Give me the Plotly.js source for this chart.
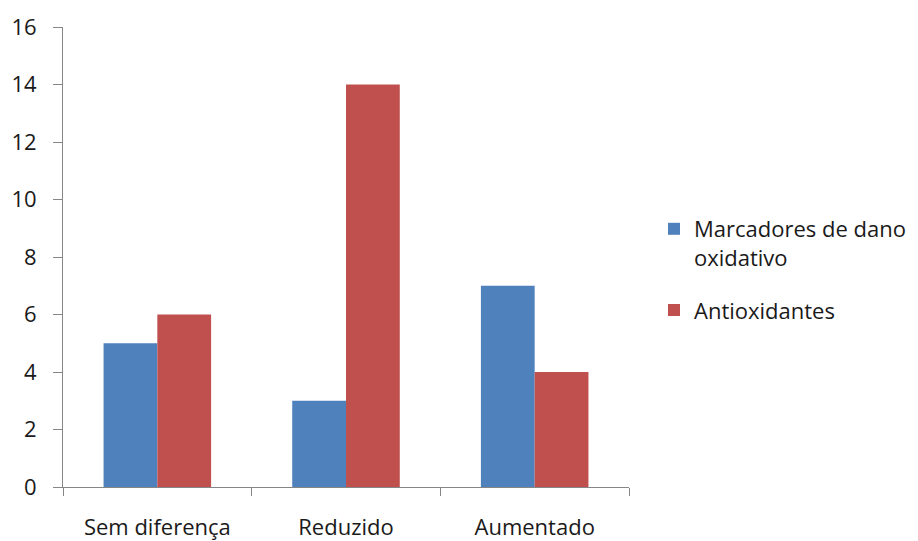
<!DOCTYPE html>
<html>
<head>
<meta charset="utf-8">
<script src="https://cdn.plot.ly/plotly-3.0.1.min.js"></script>
<style>html,body{margin:0;padding:0;background:#fff}#chart{width:918px;height:541px}</style>
</head>
<body>
<div id="chart"></div>
<script>
const categories = ["Sem diferença", "Reduzido", "Aumentado"];
const seriesNames = ["Marcadores de dano<br>oxidativo", "Antioxidantes"];
const marcadores = [5, 3, 7];
const antioxidantes = [6, 14, 4];
const yTicks = [0, 2, 4, 6, 8, 10, 12, 14, 16];

const font = {family: "Open Sans, Lato, sans-serif", size: 22, color: "#1a1a1a"};

const traces = [
  {type: "bar", name: seriesNames[0], x: categories, y: marcadores,
   legendgroup: "a", marker: {color: "#4f81bd"}},
  {type: "bar", name: seriesNames[1], x: categories, y: antioxidantes,
   legendgroup: "b", marker: {color: "#c0504d"}}
];

const layout = {
  width: 918, height: 541,
  margin: {l: 63, r: 289, t: 27, b: 54},
  paper_bgcolor: "#fff", plot_bgcolor: "#fff",
  font: font,
  barmode: "group",
  bargap: 0.43,
  bargroupgap: 0,
  showlegend: true,
  legend: {xref: "container", yref: "container", x: 0.7124, xanchor: "left",
           y: 0.6155, yanchor: "top", valign: "top",
           font: font, tracegroupgap: 21, itemwidth: 30, bgcolor: "rgba(0,0,0,0)"},
  xaxis: {type: "category", showgrid: false, showline: true, linecolor: "#868686",
          linewidth: 1, ticks: "outside", tickson: "boundaries", ticklen: 8,
          tickcolor: "#868686", tickfont: font, zeroline: false, ticklabelstandoff: 21},
  yaxis: {range: [0, 16], tickvals: yTicks, ticktext: yTicks.map(String),
          showgrid: false, showline: true, linecolor: "#868686", linewidth: 1,
          ticks: "outside", ticklen: 9, tickcolor: "#868686", tickfont: font,
          zeroline: false, ticklabelstandoff: 12}
};

Plotly.newPlot("chart", traces, layout, {displayModeBar: false});
</script>
</body>
</html>
